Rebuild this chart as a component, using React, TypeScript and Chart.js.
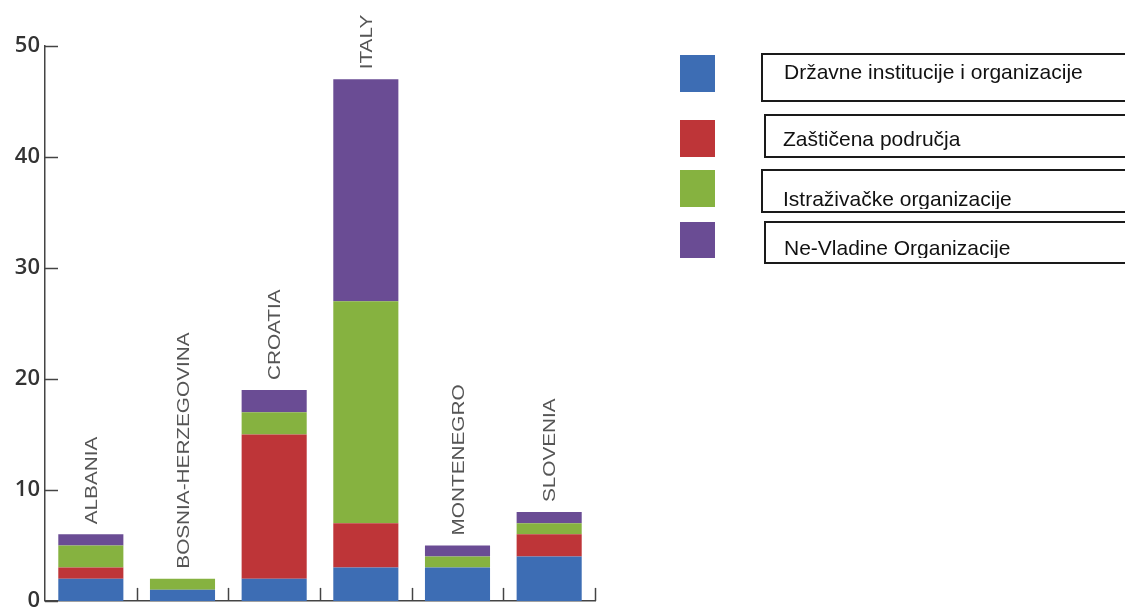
import React, { useEffect, useRef } from "react";
import { Chart, registerables } from "chart.js";

Chart.register(...registerables);

const categories = ["ALBANIA", "BOSNIA-HERZEGOVINA", "CROATIA", "ITALY", "MONTENEGRO", "SLOVENIA"];
const seriesLabels = [
  "Državne institucije i organizacije",
  "Zaštičena područja",
  "Istraživačke organizacije",
  "Ne-Vladine Organizacije",
];
const drzavne = [2, 1, 2, 3, 3, 4];
const zasticena = [1, 0, 13, 4, 0, 2];
const istrazivacke = [2, 1, 2, 20, 1, 1];
const nevladine = [1, 0, 2, 20, 1, 1];
const yTicks = [0, 10, 20, 30, 40, 50];

const seriesColors = ["#3d6db4", "#be3538", "#86b240", "#6a4c94"];

// legend layout (styles)
const legendSquares = [
  { x: 680, y: 55, w: 35, h: 37 },
  { x: 680, y: 120, w: 35, h: 37 },
  { x: 680, y: 170, w: 35, h: 37 },
  { x: 680, y: 222, w: 35, h: 36 },
];
// base: baseline offset from box top; below: visible pixels below the baseline
const legendBoxes = [
  { x: 762, y: 54, h: 47, tx: 784, base: 25, below: 20 },
  { x: 765, y: 115, h: 42, tx: 783, base: 31, below: 3 },
  { x: 762, y: 170, h: 42, tx: 783, base: 36, below: 2 },
  { x: 765, y: 222, h: 41, tx: 784, base: 33, below: 2 },
];

const inwardTicks = {
  id: "inwardTicks",
  afterDraw(chart: any) {
    const ctx = chart.ctx;
    const xs = chart.scales.x;
    const ys = chart.scales.y;
    const area = chart.chartArea;
    ctx.save();
    ctx.strokeStyle = "#444";
    ctx.lineWidth = 1.5;
    ys.ticks.forEach((t: any) => {
      const py = Math.round(ys.getPixelForValue(t.value)) + 0.5;
      ctx.beginPath();
      ctx.moveTo(area.left, py);
      ctx.lineTo(area.left + 13, py);
      ctx.stroke();
    });
    const n = categories.length;
    for (let i = 1; i <= n; i++) {
      const px =
        i < n
          ? (xs.getPixelForValue(i - 1) + xs.getPixelForValue(i)) / 2
          : xs.getPixelForValue(n - 1) + (xs.getPixelForValue(n - 1) - xs.getPixelForValue(n - 2)) / 2;
      const rx = Math.round(px) + 0.5;
      ctx.beginPath();
      ctx.moveTo(rx, area.bottom);
      ctx.lineTo(rx, area.bottom - 13);
      ctx.stroke();
    }
    ctx.restore();
  },
};

const categoryLabels = {
  id: "categoryLabels",
  afterDatasetsDraw(chart: any) {
    const ctx = chart.ctx;
    const xs = chart.scales.x;
    const ys = chart.scales.y;
    ctx.save();
    ctx.fillStyle = "#555";
    ctx.font = "17px 'Liberation Sans', Arial, sans-serif";
    ctx.textAlign = "left";
    ctx.textBaseline = "alphabetic";
    categories.forEach((label, i) => {
      const total = drzavne[i] + zasticena[i] + istrazivacke[i] + nevladine[i];
      const px = xs.getPixelForValue(i);
      const py = ys.getPixelForValue(total);
      ctx.save();
      ctx.translate(px, py - 10);
      ctx.rotate(-Math.PI / 2);
      ctx.scale(1.22, 1);
      ctx.fillText(label, 0, 6);
      ctx.restore();
    });
    ctx.restore();
  },
};

const boxLegend = {
  id: "boxLegend",
  afterDraw(chart: any) {
    const ctx = chart.ctx;
    ctx.save();
    chart.data.datasets.forEach((ds: any, i: number) => {
      const sq = legendSquares[i];
      const bx = legendBoxes[i];
      ctx.fillStyle = ds.backgroundColor;
      ctx.fillRect(sq.x, sq.y, sq.w, sq.h);
      ctx.strokeStyle = "#1a1a1a";
      ctx.lineWidth = 2;
      ctx.strokeRect(bx.x, bx.y, 1140 - bx.x, bx.h);
      ctx.save();
      ctx.beginPath();
      const clipH = Math.min(bx.h - 2, bx.base + bx.below);
      ctx.rect(bx.x + 1, bx.y + 1, 1140 - bx.x, clipH);
      ctx.clip();
      ctx.fillStyle = "#111";
      ctx.font = "21px 'Liberation Sans', Arial, sans-serif";
      ctx.textAlign = "left";
      ctx.textBaseline = "alphabetic";
      ctx.fillText(ds.label, bx.tx, bx.y + bx.base);
      ctx.restore();
    });
    ctx.restore();
  },
};

export default function App() {
  const ref = useRef<HTMLCanvasElement | null>(null);
  useEffect(() => {
    if (!ref.current) return;
    const seriesValues = [drzavne, zasticena, istrazivacke, nevladine];
    const chart = new Chart(ref.current, {
      type: "bar",
      data: {
        labels: categories,
        datasets: seriesValues.map((vals, i) => ({
          label: seriesLabels[i],
          data: vals,
          backgroundColor: seriesColors[i],
          borderWidth: 0,
          barPercentage: 0.71,
          categoryPercentage: 1,
        })),
      },
      options: {
        animation: false,
        responsive: true,
        maintainAspectRatio: false,
        layout: { padding: { top: 46, right: 530, left: 0, bottom: 0 } },
        plugins: { legend: { display: false }, tooltip: { enabled: false } },
        scales: {
          x: {
            stacked: true,
            grid: { display: false, drawTicks: false },
            border: { display: true, color: "#444", width: 1.5 },
            ticks: { display: false },
            afterFit: (s: any) => {
              s.height = 6;
            },
          },
          y: {
            stacked: true,
            min: 0,
            max: 50,
            afterBuildTicks: (s: any) => {
              s.ticks = yTicks.map((v) => ({ value: v }));
            },
            grid: { display: false, drawTicks: false },
            border: { display: true, color: "#444", width: 1.5 },
            ticks: {
              color: "#333",
              padding: 5,
              font: { family: "'Open Sans', sans-serif", size: 22, weight: 600, lineHeight: 0.1 },
            },
            afterFit: (s: any) => {
              s.width = 45;
            },
          },
        },
      },
      plugins: [inwardTicks, categoryLabels, boxLegend],
    });
    return () => chart.destroy();
  }, []);
  return (
    <div style={{ position: "fixed", left: 0, top: 0, width: 1125, height: 607, background: "#fff" }}>
      <canvas ref={ref} />
    </div>
  );
}
